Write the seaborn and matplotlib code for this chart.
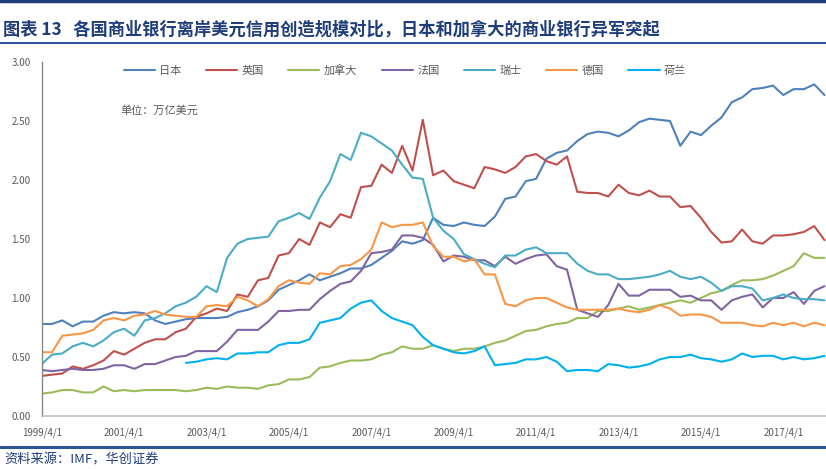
import numpy as np
import pandas as pd
import matplotlib
matplotlib.use('Agg')
import matplotlib.pyplot as plt
from matplotlib.lines import Line2D
import seaborn as sns

# 季度数据 1999/4/1 - 2018/4/1（单位：万亿美元）
quarters = pd.date_range('1999-04-01', periods=77, freq='QS-APR')

japan = [0.78, 0.78, 0.81, 0.76, 0.80, 0.80, 0.85, 0.88, 0.87, 0.88,
         0.87, 0.81, 0.78, 0.80, 0.82, 0.83, 0.83, 0.83, 0.84, 0.88,
         0.90, 0.93, 0.98, 1.07, 1.11, 1.15, 1.20, 1.15, 1.18, 1.21,
         1.25, 1.25, 1.28, 1.34, 1.40, 1.48, 1.46, 1.49, 1.68, 1.62,
         1.61, 1.64, 1.62, 1.61, 1.69, 1.84, 1.86, 1.99, 2.01, 2.18,
         2.23, 2.25, 2.33, 2.39, 2.41, 2.40, 2.37, 2.42, 2.49, 2.52,
         2.51, 2.50, 2.29, 2.41, 2.38, 2.46, 2.53, 2.66, 2.70, 2.77,
         2.78, 2.80, 2.72, 2.77, 2.77, 2.81, 2.72]
uk = [0.34, 0.35, 0.36, 0.42, 0.40, 0.43, 0.47, 0.55, 0.52, 0.57,
      0.62, 0.65, 0.65, 0.71, 0.74, 0.84, 0.87, 0.91, 0.89, 1.03,
      1.01, 1.15, 1.17, 1.36, 1.38, 1.50, 1.45, 1.64, 1.60, 1.71,
      1.68, 1.94, 1.95, 2.13, 2.06, 2.29, 2.08, 2.51, 2.04, 2.08,
      1.99, 1.96, 1.93, 2.11, 2.09, 2.06, 2.11, 2.20, 2.22, 2.16,
      2.13, 2.20, 1.90, 1.89, 1.89, 1.86, 1.96, 1.89, 1.87, 1.91,
      1.86, 1.86, 1.77, 1.78, 1.68, 1.56, 1.47, 1.48, 1.58, 1.48,
      1.46, 1.53, 1.53, 1.54, 1.56, 1.61, 1.49]
canada = [0.19, 0.20, 0.22, 0.22, 0.20, 0.20, 0.25, 0.21, 0.22, 0.21,
          0.22, 0.22, 0.22, 0.22, 0.21, 0.22, 0.24, 0.23, 0.25, 0.24,
          0.24, 0.23, 0.26, 0.27, 0.31, 0.31, 0.33, 0.41, 0.42, 0.45,
          0.47, 0.47, 0.48, 0.52, 0.54, 0.59, 0.57, 0.57, 0.60, 0.57,
          0.55, 0.57, 0.57, 0.59, 0.62, 0.64, 0.68, 0.72, 0.73, 0.76,
          0.78, 0.79, 0.83, 0.83, 0.89, 0.89, 0.91, 0.93, 0.90, 0.92,
          0.94, 0.96, 0.98, 0.96, 1.00, 1.04, 1.06, 1.11, 1.15, 1.15,
          1.16, 1.19, 1.23, 1.27, 1.38, 1.34, 1.34]
france = [0.39, 0.38, 0.39, 0.40, 0.39, 0.39, 0.40, 0.43, 0.43, 0.40,
          0.44, 0.44, 0.47, 0.50, 0.51, 0.55, 0.55, 0.55, 0.63, 0.73,
          0.73, 0.73, 0.80, 0.89, 0.89, 0.90, 0.90, 0.99, 1.06, 1.12,
          1.14, 1.23, 1.38, 1.39, 1.41, 1.53, 1.53, 1.51, 1.45, 1.31,
          1.36, 1.35, 1.32, 1.32, 1.27, 1.35, 1.29, 1.33, 1.36, 1.37,
          1.27, 1.24, 0.90, 0.87, 0.84, 0.94, 1.12, 1.02, 1.02, 1.07,
          1.07, 1.07, 1.01, 1.02, 0.98, 0.98, 0.90, 0.98, 1.01, 1.03,
          0.92, 1.00, 1.00, 1.05, 0.95, 1.06, 1.10]
swiss = [0.44, 0.52, 0.53, 0.59, 0.62, 0.59, 0.64, 0.71, 0.74, 0.68,
         0.81, 0.83, 0.87, 0.93, 0.96, 1.01, 1.10, 1.05, 1.34, 1.46,
         1.50, 1.51, 1.52, 1.65, 1.68, 1.72, 1.67, 1.85, 1.99, 2.22,
         2.17, 2.40, 2.37, 2.31, 2.25, 2.13, 2.02, 2.01, 1.68, 1.57,
         1.50, 1.37, 1.33, 1.29, 1.26, 1.36, 1.36, 1.41, 1.43, 1.38,
         1.38, 1.38, 1.29, 1.23, 1.20, 1.20, 1.16, 1.16, 1.17, 1.18,
         1.20, 1.23, 1.18, 1.16, 1.18, 1.13, 1.06, 1.10, 1.10, 1.08,
         0.98, 1.00, 1.03, 1.00, 0.99, 0.99, 0.98]
germany = [0.54, 0.54, 0.68, 0.69, 0.70, 0.73, 0.81, 0.83, 0.81, 0.85,
           0.86, 0.89, 0.86, 0.85, 0.84, 0.84, 0.93, 0.94, 0.93, 1.01,
           0.98, 0.93, 0.99, 1.10, 1.15, 1.13, 1.12, 1.21, 1.20, 1.27,
           1.28, 1.33, 1.41, 1.64, 1.60, 1.62, 1.62, 1.64, 1.44, 1.35,
           1.35, 1.31, 1.33, 1.20, 1.20, 0.95, 0.93, 0.98, 1.00, 1.00,
           0.96, 0.92, 0.90, 0.90, 0.90, 0.90, 0.91, 0.89, 0.88, 0.90,
           0.94, 0.91, 0.85, 0.86, 0.86, 0.84, 0.79, 0.79, 0.79, 0.77,
           0.76, 0.79, 0.77, 0.79, 0.76, 0.79, 0.77]
netherlands = [np.nan] * 14 + [
    0.45, 0.46, 0.48, 0.49, 0.48, 0.53,
    0.53, 0.54, 0.54, 0.60, 0.62, 0.62, 0.65, 0.79, 0.81, 0.83,
    0.91, 0.96, 0.98, 0.89, 0.83, 0.80, 0.77, 0.67, 0.60, 0.57,
    0.54, 0.53, 0.55, 0.59, 0.43, 0.44, 0.45, 0.48, 0.48, 0.50,
    0.46, 0.38, 0.39, 0.39, 0.38, 0.44, 0.43, 0.41, 0.42, 0.44,
    0.48, 0.50, 0.50, 0.52, 0.49, 0.48, 0.46, 0.48, 0.53, 0.50,
    0.51, 0.51, 0.48, 0.50, 0.48, 0.49, 0.51]

series_names = ['日本', '英国', '加拿大', '法国', '瑞士', '德国', '荷兰']
series_colors = ['#4F81BD', '#C0504D', '#9BBB59', '#8064A2', '#4BACC6', '#F79646', '#00B0F0']
tick_pos = [0, 8, 16, 24, 32, 40, 48, 56, 64, 72]
tick_labels = ['1999/4/1', '2001/4/1', '2003/4/1', '2005/4/1', '2007/4/1',
               '2009/4/1', '2011/4/1', '2013/4/1', '2015/4/1', '2017/4/1']

# 长表
wide = pd.DataFrame({'日本': japan, '英国': uk, '加拿大': canada, '法国': france,
                     '瑞士': swiss, '德国': germany, '荷兰': netherlands})
wide['idx'] = np.arange(len(quarters))
df = wide.melt(id_vars='idx', var_name='国家', value_name='规模').dropna()

sns.set_style('white')
plt.rcParams['font.family'] = ['Noto Sans CJK SC', 'DejaVu Sans']
plt.rcParams['axes.unicode_minus'] = False

W, H = 826, 469
fig = plt.figure(figsize=(W / 100, H / 100), dpi=100)
ax = fig.add_axes([41.7 / W, (H - 416) / H, (W - 41.7) / W, 354 / H])

sns.lineplot(data=df, x='idx', y='规模', hue='国家', hue_order=series_names,
             palette=series_colors, linewidth=1.5, ax=ax, legend=False)

ax.set_xlim(0, (W - 41.7) / 10.3)
ax.set_ylim(0, 3.0)
ax.set_yticks(np.arange(0, 3.01, 0.5))
ax.set_yticklabels([f'{v:.2f}' for v in np.arange(0, 3.01, 0.5)])
ax.set_xticks(tick_pos)
ax.set_xticklabels(tick_labels)
ax.set_xlabel('')
ax.set_ylabel('')
ax.tick_params(axis='y', length=0, pad=8, labelsize=7, labelcolor='#595959')
ax.tick_params(axis='x', length=3.5, width=0.8, color='#A6A6A6', direction='out',
               pad=5, labelsize=7, labelcolor='#595959')
for s in ['top', 'right']:
    ax.spines[s].set_visible(False)
ax.spines['left'].set_color('#868686')
ax.spines['bottom'].set_color('#BFBFBF')
ax.spines['left'].set_linewidth(1.0)
ax.spines['bottom'].set_linewidth(1.2)

handles = [Line2D([0], [0], color=c, lw=1.5) for c in series_colors]
ax.legend(handles, series_names, ncol=7, loc='center',
          bbox_to_anchor=((405 - 41.7) / (W - 41.7), (416 - 70) / 354),
          frameon=False, fontsize=8, handlelength=2.8, handletextpad=0.4,
          columnspacing=2.2, labelcolor='#595959')

ax.text((120 - 41.7) / (W - 41.7), (416 - 110) / 354, '单位：万亿美元',
        transform=ax.transAxes, fontsize=8, color='#595959', va='center', ha='left')

# 标题、来源与分隔线
navy = '#1F3D7A'
fig.add_artist(Line2D([0, 1], [1 - 1.5 / H, 1 - 1.5 / H], color=navy, lw=2.5))
fig.add_artist(Line2D([0, 1], [1 - 43 / H, 1 - 43 / H], color='#2E5597', lw=1.5))
fig.add_artist(Line2D([0, 1], [1 - 447 / H, 1 - 447 / H], color='#2E5597', lw=2.2))
fig.text(3 / W, 1 - 30 / H,
         '图表 13   各国商业银行离岸美元信用创造规模对比，日本和加拿大的商业银行异军突起',
         fontsize=12.4, fontweight='bold', color=navy, va='center', ha='left')
fig.text(4 / W, 1 - 460 / H, '资料来源：IMF，华创证券', fontsize=9.5, style='italic',
         color=navy, va='center', ha='left')

fig.savefig('out.png', dpi=100)
